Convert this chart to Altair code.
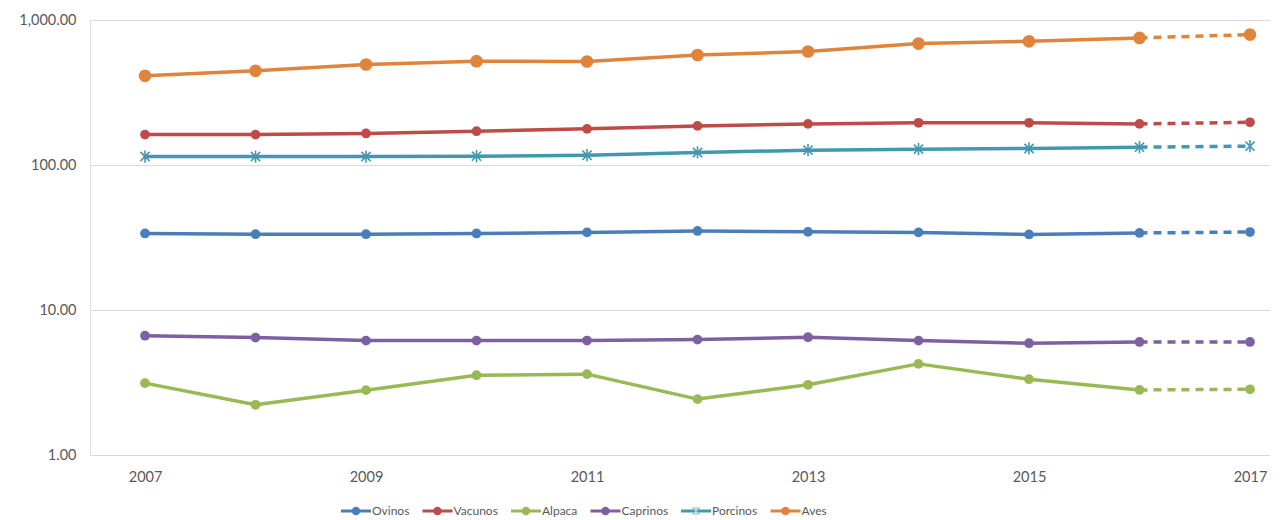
import altair as alt
import pandas as pd

years = list(range(2007, 2018))
series_names = ["Ovinos", "Vacunos", "Alpaca", "Caprinos", "Porcinos", "Aves"]
ovinos = [33.7, 33.3, 33.3, 33.7, 34.3, 35.1, 34.6, 34.3, 33.2, 34.0, 34.5]
vacunos = [162, 162, 165, 171, 177.5, 186, 192, 195.5, 195.5, 192, 197]
alpaca = [3.13, 2.22, 2.80, 3.55, 3.61, 2.43, 3.05, 4.25, 3.33, 2.81, 2.84]
caprinos = [6.65, 6.45, 6.15, 6.15, 6.16, 6.25, 6.49, 6.15, 5.90, 6.02, 6.02]
porcinos = [114.4, 114.4, 114.4, 115, 116.8, 122, 126.5, 128.5, 130, 132.7, 134.8]
aves = [412, 446, 493, 520, 517, 574, 606, 688, 713, 752, 793]
colors = ["#4A7EBB", "#BE4B48", "#98B954", "#7D60A0", "#4198AF", "#E0833B"]
y_ticks = [1, 10, 100, 1000]
x_ticks = [2007, 2009, 2011, 2013, 2015, 2017]

values = [ovinos, vacunos, alpaca, caprinos, porcinos, aves]
rows = []
for name, vals in zip(series_names, values):
    for yr, v in zip(years, vals):
        rows.append({"year": yr, "value": v, "series": name})
df = pd.DataFrame(rows)

FONT = "Lato"
color_scale = alt.Scale(domain=series_names, range=colors)

x_enc = alt.X("year:Q",
              scale=alt.Scale(domain=[2006.502, 2017.181], nice=False, zero=False),
              axis=alt.Axis(values=x_ticks, format="d", grid=False, ticks=False,
                            domainColor="#d9d9d9", labelPadding=15,
                            labelFont=FONT, labelFontSize=14.5, labelColor="#595959"),
              title=None)
y_enc = alt.Y("value:Q",
              scale=alt.Scale(type="log", domain=[1, 1000], nice=False),
              axis=alt.Axis(values=y_ticks, format=",.2f", grid=True, gridColor="#d9d9d9",
                            gridWidth=1.2, domain=False, ticks=False, labelPadding=14,
                            labelFont=FONT, labelFontSize=14.5, labelColor="#595959"),
              title=None)
col = alt.Color("series:N", scale=color_scale, legend=None)

base = alt.Chart(df)

solid = base.transform_filter(alt.datum.year <= 2016).mark_line(
    strokeWidth=3.5, strokeCap="round", strokeJoin="round"
).encode(x=x_enc, y=y_enc, color=col, detail="series:N")

dashed = base.transform_filter(alt.datum.year >= 2016).mark_line(
    strokeWidth=3.5, strokeDash=[8, 6]
).encode(x=x_enc, y=y_enc, color=col, detail="series:N")

dots = base.transform_filter(
    (alt.datum.series != "Porcinos") & (alt.datum.series != "Aves")
).mark_circle(opacity=1, size=95).encode(x=x_enc, y=y_enc, color=col)

big_dots = base.transform_filter(alt.datum.series == "Aves").mark_circle(
    opacity=1, size=160
).encode(x=x_enc, y=y_enc, color=col)

star_path = "M0,-1L0,1M-0.75,-0.75L0.75,0.75M-0.75,0.75L0.75,-0.75"
stars = base.transform_filter(alt.datum.series == "Porcinos").mark_point(
    shape=star_path, filled=False, strokeWidth=1.6, size=150, opacity=1
).encode(x=x_enc, y=y_enc, color=col)

# legend symbols: a line segment with the marker in the middle (filled shapes)
line_rect = "M-3,-0.32L3,-0.32L3,0.32L-3,0.32Z"
circ = "M-0.85,0A0.85,0.85,0,1,1,0.85,0A0.85,0.85,0,1,1,-0.85,0Z"
legend_circle = line_rect + circ

def arm(dx, dy, w=0.1):
    px, py = -dy * w, dx * w
    pts = [(-dx + px, -dy + py), (dx + px, dy + py), (dx - px, dy - py), (-dx - px, -dy - py)]
    return "M" + "L".join(f"{a:.3f},{b:.3f}" for a, b in pts) + "Z"

legend_star = line_rect + arm(0, 0.85) + arm(0.7, 0.7) + arm(0.7, -0.7)
shape_range = [legend_circle, legend_circle, legend_circle, legend_circle, legend_star, legend_circle]

leg = alt.Legend(title=None, orient="none", legendX=260, legendY=485, direction="horizontal",
                 symbolSize=100, labelOffset=10, columnPadding=12.5, columns=6,
                 labelFont=FONT, labelFontSize=12, labelColor="#595959",
                 symbolStrokeWidth=0, symbolOpacity=1)

legend_layer = base.mark_point(filled=True, opacity=0).encode(
    x=x_enc, y=y_enc,
    color=alt.Color("series:N", scale=alt.Scale(domain=series_names, range=colors),
                    legend=leg, sort=series_names),
    shape=alt.Shape("series:N", scale=alt.Scale(domain=series_names, range=shape_range),
                    legend=leg, sort=series_names),
)

chart = alt.layer(solid, dashed, dots, big_dots, stars, legend_layer).resolve_scale(
    color="independent", shape="independent"
).resolve_legend(color="independent", shape="independent").properties(
    width=1180, height=435,
    padding={"left": 10, "top": 4, "right": 0, "bottom": 0},
).configure_view(stroke=None).configure(background="white")

chart.save("out.html", embed_options={"renderer": "svg", "actions": False})
